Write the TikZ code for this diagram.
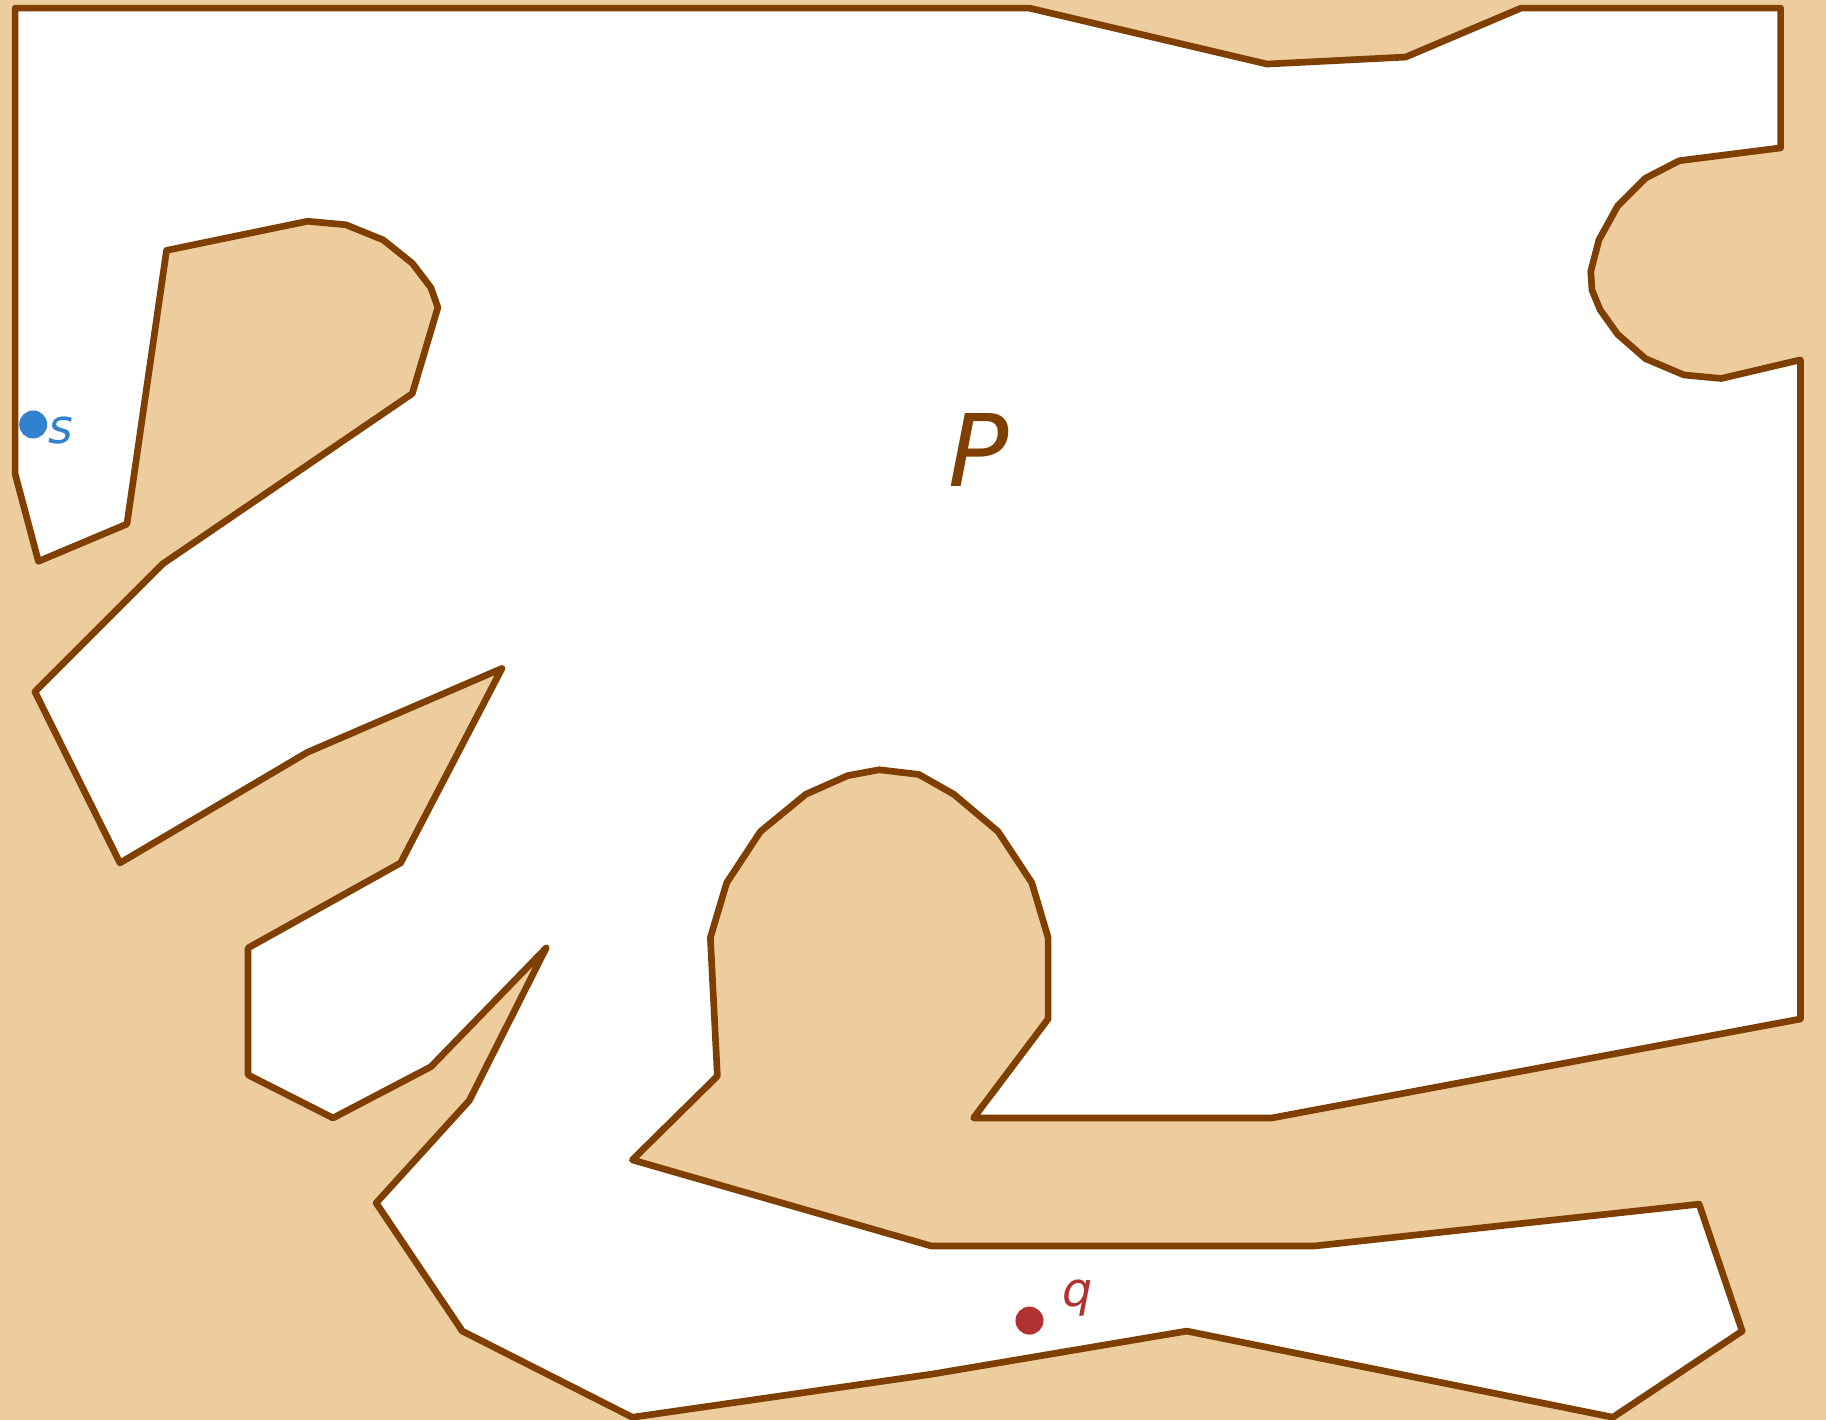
\documentclass[tikz,border=0pt]{standalone}
\usepackage{fontspec}
\setmainfont{DejaVu Sans}
\usepackage{tikz}

\definecolor{wall}{RGB}{127,63,0}
\definecolor{sand}{RGB}{237,204,158}
\definecolor{sblue}{RGB}{49,130,206}
\definecolor{qred}{RGB}{178,50,50}

\begin{document}
\begin{tikzpicture}[x=0.011645cm, y=-0.011645cm,
  dot/.style={circle, inner sep=0pt, minimum size=0.28cm}]
\fill[sand] (0,0) rectangle (1568,1219);
\useasboundingbox (0,0) rectangle (1568,1219);

% the polygon P
\filldraw[fill=white, draw=wall, line width=1.9pt, line join=round]
  (13,7) -- (884,7) -- (1088,55) -- (1207,49) -- (1306,7) -- (1529,7)
  -- (1529,127) -- (1442,138) -- (1413,153) -- (1389,177) -- (1373,206)
  -- (1366,233) -- (1367,249) -- (1374,266) -- (1389,287) -- (1413,308)
  -- (1446,322) -- (1478,325) -- (1546,309) -- (1546,875) -- (1092,960)
  -- (836,960) -- (900,875) -- (900,805) -- (886,758) -- (857,714)
  -- (819,682) -- (789,665) -- (755,661) -- (728,666) -- (692,682)
  -- (653,714) -- (624,758) -- (610,805) -- (616,924) -- (543,996)
  -- (800,1070) -- (1128,1070) -- (1459,1034) -- (1496,1143) -- (1385,1217)
  -- (1019,1143) -- (800,1180) -- (543,1217) -- (397,1143) -- (323,1033)
  -- (403,945) -- (469,814) -- (370,916) -- (286,960) -- (213,923)
  -- (213,814) -- (344,741) -- (431,574) -- (264,646) -- (103,741)
  -- (30,594) -- (140,484) -- (354,338) -- (376,264) -- (370,247)
  -- (354,226) -- (329,206) -- (297,193) -- (264,190) -- (143,215)
  -- (109,450) -- (33,482) -- (13,407) -- cycle;

\node[wall, font=\fontsize{28.5}{30}\selectfont\itshape, anchor=base] (plabel) at (840,418) {P};

\node[dot, fill=sblue] (s) at (28.5,364.5) {};
\node[sblue, font=\fontsize{13.5}{15}\selectfont\itshape, anchor=base west, inner sep=0pt] (slabel) at (41,381) {s};

\node[dot, fill=qred] (q) at (884,1134) {};
\node[qred, font=\fontsize{13.5}{15}\selectfont\itshape, anchor=base west, inner sep=0pt] (qlabel) at (912,1122) {q};
\end{tikzpicture}
\end{document}
